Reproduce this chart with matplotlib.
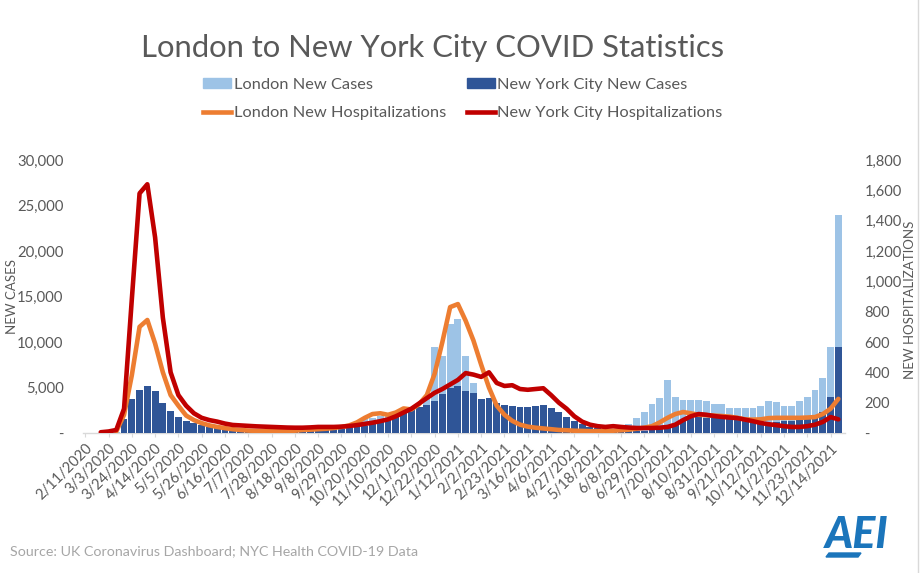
import numpy as np
import pandas as pd
import matplotlib
matplotlib.use("Agg")
import matplotlib.pyplot as plt
from matplotlib.patches import Patch, Polygon
from matplotlib.lines import Line2D
from matplotlib.ticker import FuncFormatter, MultipleLocator

plt.rcParams['font.family'] = ['Lato', 'DejaVu Sans']

nan = np.nan
# Weekly samples starting 2/11/2020
week_start = "2020-02-11"
n_weeks = 98

london_cases = [
    0, 0, 0, 20, 60, 200, 500, 650, 700, 600,          # i0-9
    450, 300, 200, 150, 100, 80, 70, 60, 60, 60,       # i10-19
    60, 60, 60, 70, 70, 80, 90, 100, 120, 150,         # i20-29
    250, 400, 550, 800, 1000, 1300, 1500, 1700, 1900, 2100,  # i30-39
    1800, 1600, 1800, 2600, 4000, 9500, 8500, 12000, 12500, 8500,  # i40-49
    5500, 3200, 2200, 1500, 1100, 800, 600, 500, 450, 400,  # i50-59
    400, 350, 300, 300, 280, 250, 250, 280, 300, 500,  # i60-69
    1000, 1600, 2300, 3200, 3900, 5800, 4000, 3600, 3600, 3600,  # i70-79
    3500, 3200, 3200, 2800, 2700, 2700, 2800, 3000, 3500, 3400,  # i80-89
    3000, 3000, 3500, 4000, 4700, 6000, 9500, 24000,   # i90-97
]

nyc_cases = [
    0, 0, 0, 10, 50, 1500, 3700, 4700, 5200, 4600,     # i0-9
    3300, 2400, 1800, 1350, 1050, 850, 680, 560, 480, 400,  # i10-19
    350, 320, 310, 300, 290, 280, 270, 270, 280, 300,  # i20-29
    320, 350, 400, 450, 520, 620, 800, 950, 1300, 1600,  # i30-39
    2000, 2300, 2600, 2900, 3100, 3500, 4300, 4900, 5200, 4600,  # i40-49
    4400, 3700, 3900, 3300, 3100, 3000, 2900, 2900, 3000, 3050,  # i50-59
    2750, 2300, 1800, 1300, 1000, 700, 520, 400, 300, 220,  # i60-69
    200, 200, 230, 300, 450, 700, 1000, 1300, 1600, 1750,  # i70-79
    1700, 1650, 1600, 1500, 1400, 1300, 1250, 1200, 1150, 1200,  # i80-89
    1300, 1350, 1400, 1600, 2000, 2300, 4000, 9500,    # i90-97
]

london_hosp = [
    nan, nan, nan, nan, 10, 120, 380, 700, 745, 590,   # i0-9
    400, 250, 180, 115, 85, 65, 50, 40, 32, 25,        # i10-19
    20, 16, 14, 13, 12, 12, 13, 15, 20, 22,            # i20-29
    25, 28, 33, 40, 50, 70, 100, 125, 130, 120,        # i30-39
    135, 162, 155, 190, 250, 390, 600, 830, 850, 740,  # i40-49
    610, 450, 300, 180, 120, 80, 55, 42, 35, 30,       # i50-59
    25, 20, 18, 15, 14, 12, 12, 13, 15, 18,            # i60-69
    22, 28, 35, 45, 70, 100, 125, 138, 130, 120,       # i70-79
    118, 115, 112, 108, 100, 90, 88, 90, 98, 100,      # i80-89
    100, 100, 100, 102, 105, 125, 160, 225,            # i90-97
]

nyc_hosp = [
    nan, nan, 5, 10, 20, 160, 880, 1580, 1640, 1290,   # i0-9
    760, 400, 250, 180, 130, 100, 85, 75, 62, 53,      # i10-19
    50, 47, 44, 42, 40, 38, 36, 35, 35, 37,            # i20-29
    40, 40, 40, 42, 46, 52, 60, 68, 78, 90,            # i30-39
    110, 135, 160, 195, 230, 265, 290, 320, 350, 395,  # i40-49
    385, 370, 400, 330, 310, 315, 290, 285, 290, 295,  # i50-59
    250, 200, 160, 110, 75, 55, 45, 40, 45, 40,        # i60-69
    36, 33, 33, 33, 35, 40, 55, 85, 110, 125,          # i70-79
    120, 112, 106, 102, 98, 88, 78, 66, 58, 52,        # i80-89
    45, 40, 40, 45, 55, 73, 105, 90,                   # i90-97
]

title = "London to New York City COVID Statistics"
series_names = ["London New Cases", "New York City New Cases",
                "London New Hospitalizations", "New York City Hospitalizations"]
source_text = "Source: UK Coronavirus Dashboard; NYC Health COVID-19 Data"

c_lon_cases = "#9DC3E6"
c_nyc_cases = "#2F5597"
c_lon_hosp = "#ED7D31"
c_nyc_hosp = "#C00000"
gray = "#595959"
logo_blue = "#1B75BB"

dates = pd.date_range(week_start, periods=n_weeks, freq="7D")
tick_dates = pd.date_range("2020-02-11", "2021-12-14", freq="21D")
tick_labels = [f"{d.month}/{d.day}/{d.year}" for d in tick_dates]

fig = plt.figure(figsize=(9.23, 5.73), dpi=100)
ax = fig.add_axes([83/923, 140/573, (845-83)/923, (433-160)/573])
ax2 = ax.twinx()

ax.bar(dates, london_cases, width=6.2, color=c_lon_cases, linewidth=0, zorder=2)
ax.bar(dates, nyc_cases, width=6.2, color=c_nyc_cases, linewidth=0, zorder=3)

ax2.plot(dates, london_hosp, color=c_lon_hosp, lw=3.3, solid_capstyle='round',
         solid_joinstyle='round', zorder=4)
ax2.plot(dates, nyc_hosp, color=c_nyc_hosp, lw=3.3, solid_capstyle='round',
         solid_joinstyle='round', zorder=5)

ax.set_xlim(pd.Timestamp("2020-02-09"), pd.Timestamp("2021-12-27"))
ax.set_ylim(0, 30000)
ax2.set_ylim(0, 1800)
ax.yaxis.set_major_locator(MultipleLocator(5000))
ax2.yaxis.set_major_locator(MultipleLocator(200))

def fmt(v, pos):
    return "-" if abs(v) < 1e-9 else f"{v:,.0f}"

ax.yaxis.set_major_formatter(FuncFormatter(fmt))
ax2.yaxis.set_major_formatter(FuncFormatter(fmt))

for a in (ax, ax2):
    for s in a.spines.values():
        s.set_visible(False)
ax.spines['bottom'].set_visible(True)
ax.spines['bottom'].set_color("#D9D9D9")
ax.spines['bottom'].set_linewidth(1)

ax.set_xticks(tick_dates)
ax.set_xticklabels(tick_labels, rotation=45, ha='right', va='top',
                   rotation_mode='anchor', fontsize=10.5, color=gray)
ax.tick_params(axis='x', length=3, color="#D9D9D9", pad=3)
ax.tick_params(axis='y', length=0, pad=14, labelsize=10.7, labelcolor=gray)
ax2.tick_params(axis='y', length=0, pad=14, labelsize=10.5, labelcolor=gray)
ax.grid(False)
ax2.grid(False)

fig.text(12/923, 1 - 297/573, "NEW CASES", rotation=90, ha='center', va='center',
         fontsize=9.5, color=gray)
fig.text(910/923, 1 - 300/573, "NEW HOSPITALIZATIONS", rotation=90, ha='center',
         va='center', fontsize=9.5, color=gray)

fig.text(433/923, 1 - 48/573, title, ha='center', va='center', fontsize=22.3,
         color=gray, fontweight='normal')

handles = [Patch(color=c_lon_cases), Line2D([], [], color=c_lon_hosp, lw=3.3),
           Patch(color=c_nyc_cases), Line2D([], [], color=c_nyc_hosp, lw=3.3)]
labels = [series_names[0], series_names[2], series_names[1], series_names[3]]
leg = fig.legend(handles, labels, ncol=2, loc='center', bbox_to_anchor=(463/923, 1 - 99/573),
                 frameon=False, fontsize=11.8, labelspacing=0.9, columnspacing=1.3,
                 handlelength=1.7, handletextpad=0.15, handleheight=0.6)
for t in leg.get_texts():
    t.set_color(gray)

fig.text(10/923, 1 - 551/573, source_text, ha='left', va='center', fontsize=10.3,
         color="#A6A6A6")

fig.text(857/923, 1 - 535/573, "AEI", ha='center', va='center', fontsize=31,
         fontweight='black', style='italic', color=logo_blue)
fig.add_artist(Polygon([[826/923, 1 - 557/573], [858/923, 1 - 557/573],
                        [861/923, 1 - 553/573], [829/923, 1 - 553/573]],
                       closed=True, color=logo_blue, transform=fig.transFigure))

fig.add_artist(Line2D([918/923, 918/923], [0, 1], color="#D9D9D9", lw=1,
                      transform=fig.transFigure))

fig.savefig("out.png", dpi=100, facecolor='white')
